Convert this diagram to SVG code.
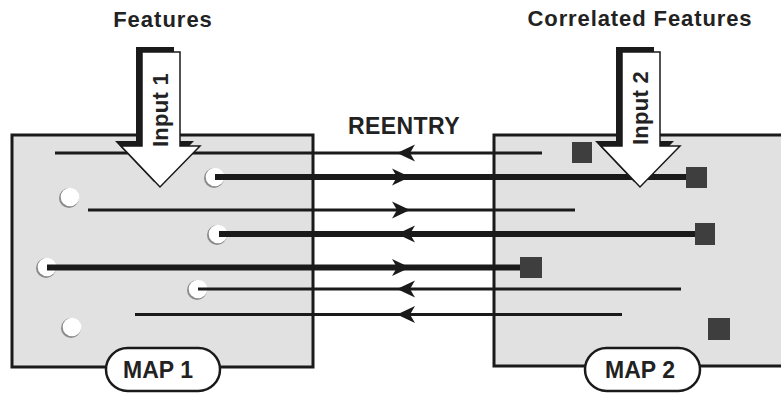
<svg xmlns="http://www.w3.org/2000/svg" width="781" height="395" viewBox="0 0 781 395">
<style>
.map{fill:#e1e1e1;stroke:#1a1a1a;stroke-width:3}
.pill{fill:#fff;stroke:#1a1a1a;stroke-width:2.5}
.t{font-family:"Liberation Sans",Arial,Helvetica,sans-serif;font-weight:bold;fill:#222}
.thin{fill:none;stroke:#1a1a1a;stroke-width:3;marker-mid:url(#ah)}
.thick{fill:none;stroke:#1a1a1a;stroke-width:6;marker-mid:url(#ah)}
.sq{fill:#3e3e3e}
.dotsh{fill:#8a8a8a}
.dot{fill:#fff}
.shadow{fill:#1a1a1a}
.arrow{fill:#fff;stroke:#1a1a1a;stroke-width:1.5;stroke-linejoin:miter}
</style>
<defs>
<marker id="ah" markerUnits="userSpaceOnUse" markerWidth="20" markerHeight="20" viewBox="0 0 20 20" refX="18" refY="10" orient="auto" overflow="visible">
<path d="M18,10 L0,1.5 L5,10 L0,18.5 Z" fill="#1a1a1a"/>
</marker>
</defs>
<rect width="781" height="395" fill="#fff"/>
<g id="titles">
<text class="t" x="163" y="27" font-size="22" letter-spacing="1" text-anchor="middle">Features</text>
<text class="t" x="640" y="26" font-size="22" letter-spacing="0.9" text-anchor="middle">Correlated Features</text>
<text class="t" x="404" y="134" font-size="23" letter-spacing="0.4" text-anchor="middle">REENTRY</text>
</g>
<g id="map1">
<rect class="map" x="12" y="135" width="301" height="232"/>
</g>
<g id="map2">
<rect class="map" x="494" y="135" width="310" height="231"/>
</g>
<g id="dots">
<g id="dot1"><circle class="dotsh" cx="214" cy="178" r="10"/><circle class="dot" cx="215" cy="177" r="9.3"/></g>
<g id="dot2"><circle class="dotsh" cx="69" cy="198" r="10"/><circle class="dot" cx="70" cy="197" r="9.3"/></g>
<g id="dot3"><circle class="dotsh" cx="217" cy="235" r="10"/><circle class="dot" cx="218" cy="234" r="9.3"/></g>
<g id="dot4"><circle class="dotsh" cx="46" cy="268" r="10"/><circle class="dot" cx="47" cy="267" r="9.3"/></g>
<g id="dot5"><circle class="dotsh" cx="197" cy="290" r="10"/><circle class="dot" cx="198" cy="289" r="9.3"/></g>
<g id="dot6"><circle class="dotsh" cx="71" cy="328" r="10"/><circle class="dot" cx="72" cy="327" r="9.3"/></g>
</g>
<g id="connectors">
<path class="thin" d="M542,153 L397,153 L55,153"/>
<path class="thick" d="M215,177 L410,177 L697,177"/>
<path class="thin" d="M88,210 L410,210 L575,210"/>
<path class="thick" d="M705,234 L397,234 L219,234"/>
<path class="thick" d="M47,267.5 L410,267.5 L530,267.5"/>
<path class="thin" d="M681,289 L397,289 L198,289"/>
<path class="thin" d="M622,314.5 L397,314.5 L135,314.5"/>
</g>
<g id="squares">
<rect class="sq" x="572" y="142" width="20" height="21"/>
<rect class="sq" x="686" y="167" width="21" height="21"/>
<rect class="sq" x="695" y="223" width="20" height="22"/>
<rect class="sq" x="520" y="257" width="22" height="21"/>
<rect class="sq" x="708" y="318" width="22" height="22"/>
</g>
<g id="input1">
<polygon class="shadow" points="136,47 174,47 174,141 194,141 154,182 115,141 136,141"/>
<polygon class="arrow" points="142,52 180,52 180,146 200,146 160,187 121,146 142,146"/>
<text class="t" x="168" y="110" font-size="22" letter-spacing="0.3" text-anchor="middle" transform="rotate(-90 168 110)">Input 1</text>
</g>
<g id="input2">
<polygon class="shadow" points="616,47 654,47 654,141 674,141 634,182 595,141 616,141"/>
<polygon class="arrow" points="622,52 660,52 660,146 680,146 640,187 601,146 622,146"/>
<text class="t" x="648" y="108" font-size="22" letter-spacing="0.3" text-anchor="middle" transform="rotate(-90 648 108)">Input 2</text>
</g>
<g id="label1">
<rect class="pill" x="106" y="348" width="114" height="43" rx="21.5"/>
<text class="t" x="158" y="378" font-size="23" text-anchor="middle">MAP 1</text>
</g>
<g id="label2">
<rect class="pill" x="585" y="348" width="115" height="43" rx="21.5"/>
<text class="t" x="640" y="378" font-size="23" text-anchor="middle">MAP 2</text>
</g>
</svg>
